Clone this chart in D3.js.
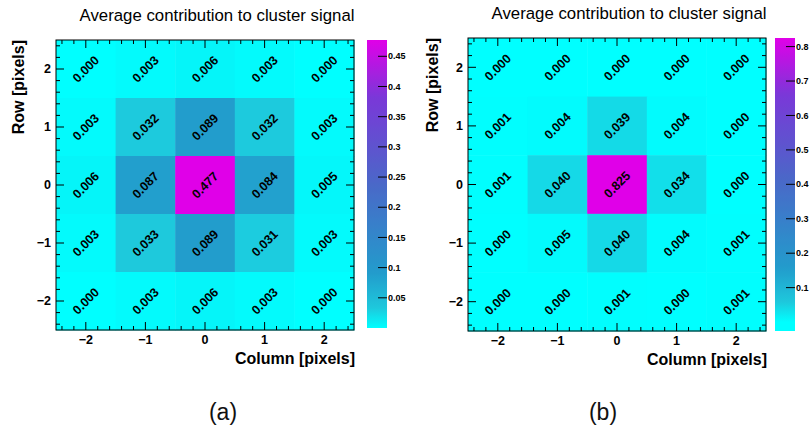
<!DOCTYPE html>
<html>
<head>
<meta charset="utf-8">
<script src="https://cdn.jsdelivr.net/npm/d3@7"></script>
<style>
  html, body { margin: 0; padding: 0; background: #fff; }
  svg { display: block; }
  text { font-family: "Liberation Sans", Arial, Helvetica, sans-serif; }
</style>
</head>
<body>
<svg id="chart" width="810" height="430"></svg>
<script>
// Pixel offsets of the cluster grid (columns left→right, rows top→bottom)
const columns = [-2, -1, 0, 1, 2];
const rows = [2, 1, 0, -1, -2];
const axisTicks = [-2, -1, 0, 1, 2];

// Average contribution per pixel, panel (a); one array per row, top row first
const signalA = [
  [0.000, 0.003, 0.006, 0.003, 0.000],
  [0.003, 0.032, 0.089, 0.032, 0.003],
  [0.006, 0.087, 0.477, 0.084, 0.005],
  [0.003, 0.033, 0.089, 0.031, 0.003],
  [0.000, 0.003, 0.006, 0.003, 0.000]
];

// Average contribution per pixel, panel (b)
const signalB = [
  [0.000, 0.000, 0.000, 0.000, 0.000],
  [0.001, 0.004, 0.039, 0.004, 0.000],
  [0.001, 0.040, 0.825, 0.034, 0.000],
  [0.000, 0.005, 0.040, 0.004, 0.001],
  [0.000, 0.000, 0.001, 0.000, 0.001]
];

// Colour scale ranges, colour-bar axis extents and ticks
const zRangeA = [0, 0.477];
const zAxisA = [0, 0.477];
const zTicksA = [0.05, 0.1, 0.15, 0.2, 0.25, 0.3, 0.35, 0.4, 0.45];
const zRangeB = [0, 0.825];
const zAxisB = [-0.026, 0.825];
const zTicksB = [0.1, 0.2, 0.3, 0.4, 0.5, 0.6, 0.7, 0.8];

const titleText = "Average contribution to cluster signal";
const xTitle = "Column [pixels]";
const yTitle = "Row [pixels]";
const captions = ["(a)", "(b)"];

// Cyan → teal → steel blue → violet → magenta palette
const paletteStops = [0, 0.07, 0.19, 0.5, 0.8, 1];
const paletteColors = ["#00ffff", "#1ec8dc", "#229ccc", "#4a68c8", "#7a38d8", "#e000e8"];

const svg = d3.select("#chart");
const defs = svg.append("defs");

function drawPanel(opt) {
  const g = svg.append("g");
  const x = d3.scaleLinear().domain([-2.5, 2.5]).range([opt.x0, opt.x1]);
  const y = d3.scaleLinear().domain([-2.5, 2.5]).range([opt.y1, opt.y0]);
  const z = d3.scaleLinear().domain(opt.zRange).range([0, 1]).clamp(true);
  const pal = d3.scaleLinear().domain(paletteStops).range(paletteColors)
    .interpolate(d3.interpolateRgb);
  const colour = v => pal(z(v));

  // Cells
  const cells = [];
  opt.values.forEach((row, ri) => row.forEach((v, ci) => {
    cells.push({ c: columns[ci], r: rows[ri], v });
  }));
  g.selectAll("rect.cell").data(cells).join("rect")
    .attr("class", "cell")
    .attr("x", d => x(d.c - 0.5))
    .attr("y", d => y(d.r + 0.5))
    .attr("width", d => x(d.c + 0.5) - x(d.c - 0.5) + 0.5)
    .attr("height", d => y(d.r - 0.5) - y(d.r + 0.5) + 0.5)
    .attr("fill", d => colour(d.v));

  // Cell value labels, rotated
  g.selectAll("text.val").data(cells).join("text")
    .attr("class", "val")
    .attr("transform", d => `translate(${x(d.c)},${y(d.r)}) rotate(-45)`)
    .attr("text-anchor", "middle")
    .attr("dy", "0.35em")
    .attr("font-size", 12.5)
    .attr("font-weight", "bold")
    .attr("fill", "#000")
    .text(d => d3.format(".3f")(d.v));

  // Axes with inward ticks on all four sides
  const minor = d3.range(-2.4, 2.5, 0.2).map(v => Math.round(v * 10) / 10);
  const axG = g.append("g").attr("stroke", "#000").attr("stroke-width", 1);
  minor.forEach(v => {
    const isMajor = Math.abs(v - Math.round(v)) < 1e-6;
    const len = isMajor ? 8 : 4;
    const xl = x(v), yl = y(v);
    axG.append("line").attr("x1", xl).attr("x2", xl).attr("y1", opt.y1).attr("y2", opt.y1 - len);
    axG.append("line").attr("x1", xl).attr("x2", xl).attr("y1", opt.y0).attr("y2", opt.y0 + len);
    axG.append("line").attr("y1", yl).attr("y2", yl).attr("x1", opt.x0).attr("x2", opt.x0 + len);
    axG.append("line").attr("y1", yl).attr("y2", yl).attr("x1", opt.x1).attr("x2", opt.x1 - len);
  });
  g.append("rect")
    .attr("x", opt.x0).attr("y", opt.y0)
    .attr("width", opt.x1 - opt.x0).attr("height", opt.y1 - opt.y0)
    .attr("fill", "none").attr("stroke", "#000").attr("stroke-width", 1);

  const fmt = d3.format("d");
  g.selectAll("text.xt").data(axisTicks).join("text")
    .attr("class", "xt")
    .attr("x", d => x(d)).attr("y", opt.y1 + 14)
    .attr("text-anchor", "middle")
    .attr("font-size", 12.5).attr("font-weight", "bold")
    .text(d => fmt(d));
  g.selectAll("text.yt").data(axisTicks).join("text")
    .attr("class", "yt")
    .attr("x", opt.x0 - 5).attr("y", d => y(d)).attr("dy", "0.35em")
    .attr("text-anchor", "end")
    .attr("font-size", 12.5).attr("font-weight", "bold")
    .text(d => fmt(d));

  g.append("text")
    .attr("x", opt.x1 + 1).attr("y", opt.y1 + 34)
    .attr("text-anchor", "end")
    .attr("font-size", 16).attr("font-weight", "bold")
    .text(xTitle);
  g.append("text")
    .attr("transform", `translate(${opt.yTitleX},${opt.y0}) rotate(-90)`)
    .attr("text-anchor", "end")
    .attr("font-size", 16).attr("font-weight", "bold")
    .text(yTitle);

  g.append("text")
    .attr("x", opt.titleX).attr("y", opt.titleY)
    .attr("text-anchor", "middle")
    .attr("font-size", 16.8)
    .text(titleText);

  // Colour bar: gradient sampled from the same colour scale along its axis
  const zy = d3.scaleLinear().domain(opt.zAxis).range([opt.by1, opt.by0]);
  const gradId = "grad" + opt.id;
  const grad = defs.append("linearGradient")
    .attr("id", gradId).attr("x1", 0).attr("x2", 0).attr("y1", 1).attr("y2", 0);
  d3.range(0, 1.0001, 0.01).forEach(t => {
    const v = opt.zAxis[0] + t * (opt.zAxis[1] - opt.zAxis[0]);
    grad.append("stop").attr("offset", t).attr("stop-color", colour(v));
  });
  g.append("rect")
    .attr("x", opt.bx).attr("y", opt.by0)
    .attr("width", opt.bw).attr("height", opt.by1 - opt.by0)
    .attr("fill", `url(#${gradId})`);
  g.selectAll("line.zt").data(opt.zTicks).join("line")
    .attr("class", "zt")
    .attr("x1", opt.bx + opt.bw - 9).attr("x2", opt.bx + opt.bw)
    .attr("y1", d => zy(d)).attr("y2", d => zy(d))
    .attr("stroke", "#000").attr("stroke-width", 1);
  g.selectAll("text.zl").data(opt.zTicks).join("text")
    .attr("class", "zl")
    .attr("x", opt.bx + opt.bw + 1).attr("y", d => zy(d)).attr("dy", "0.35em")
    .attr("font-size", 9).attr("font-weight", "bold")
    .text(d => String(d));

  svg.append("text")
    .attr("x", opt.capX).attr("y", 420)
    .attr("text-anchor", "middle")
    .attr("font-family", "'Liberation Sans Narrow', 'DejaVu Sans Condensed', sans-serif")
    .attr("font-size", 23)
    .attr("fill", "#111")
    .text(opt.caption);
}

drawPanel({
  id: "a", values: signalA, zRange: zRangeA, zAxis: zAxisA, zTicks: zTicksA,
  x0: 56, x1: 354, y0: 40, y1: 330,
  bx: 367, bw: 20, by0: 40, by1: 328,
  titleX: 217, titleY: 21, yTitleX: 24,
  capX: 223, caption: captions[0]
});

drawPanel({
  id: "b", values: signalB, zRange: zRangeB, zAxis: zAxisB, zTicks: zTicksB,
  x0: 468, x1: 766, y0: 38, y1: 331,
  bx: 775, bw: 20, by0: 38, by1: 331,
  titleX: 629, titleY: 19, yTitleX: 438,
  capX: 603, caption: captions[1]
});
</script>
</body>
</html>
